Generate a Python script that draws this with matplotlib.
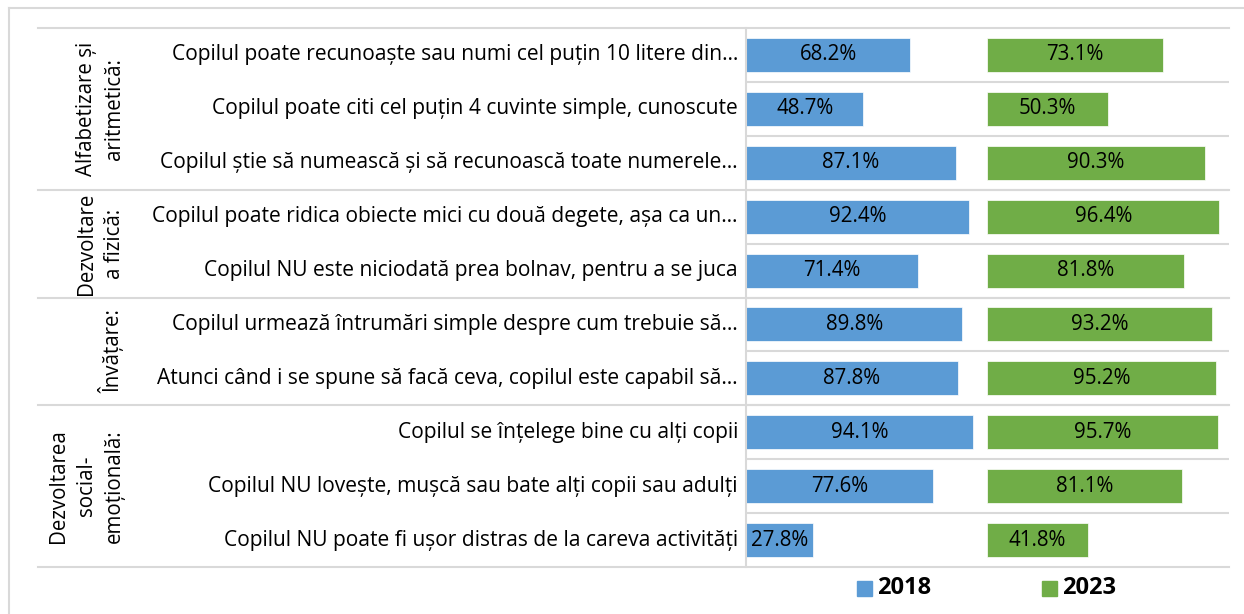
import numpy as np
import matplotlib.pyplot as plt
from matplotlib.lines import Line2D
from matplotlib.patches import Rectangle

# %% data
items = [
    'Copilul poate recunoaște sau numi cel puțin 10 litere din…',
    'Copilul poate citi cel puțin 4 cuvinte simple, cunoscute',
    'Copilul știe să numească și să recunoască toate numerele…',
    'Copilul poate ridica obiecte mici cu două degete, așa ca un…',
    'Copilul NU este niciodată prea bolnav, pentru a se juca',
    'Copilul urmează întrumări simple despre cum trebuie să…',
    'Atunci când i se spune să facă ceva, copilul este capabil să…',
    'Copilul se înțelege bine cu alți copii',
    'Copilul NU lovește, mușcă sau bate alți copii sau adulți',
    'Copilul NU poate fi ușor distras de la careva activități',
]
groups = ['Alfabetizare și\naritmetică:', 'Dezvoltare\na fizică:', 'Învățare:',
          'Dezvoltarea\nsocial-\nemoțională:']
group_sizes = [3, 2, 2, 3]
v2018 = [68.2, 48.7, 87.1, 92.4, 71.4, 89.8, 87.8, 94.1, 77.6, 27.8]
v2023 = [73.1, 50.3, 90.3, 96.4, 81.8, 93.2, 95.2, 95.7, 81.1, 41.8]
years = ['2018', '2023']

blue = '#5B9BD5'
green = '#70AD47'
grid = '#D9D9D9'
plt.rcParams['font.family'] = ['Open Sans', 'DejaVu Sans']
fs = 15.1

W, H = 1244, 614
fig = plt.figure(figsize=(W/100, H/100), dpi=100)

def fx(px):
    return px / W

def fy(py):
    return 1 - py / H

# outer frame
fig.add_artist(Line2D([fx(9), fx(9)], [fy(8), 0], color=grid, lw=1.5))
fig.add_artist(Line2D([fx(9), 1], [fy(8), fy(8)], color=grid, lw=1.5))

# bars axis
x0, x1, y0, y1 = 746, 1229, 28, 567
ax = fig.add_axes([fx(x0), fy(y1), fx(x1 - x0), (y1 - y0) / H])
n = len(items)
pos = np.arange(n) + 0.5
ax.barh(pos, v2018, height=0.63, color=blue, edgecolor='white', lw=0.5)
ax.barh(pos, v2023, left=100, height=0.63, color=green, edgecolor='white', lw=0.5)
for p, a, b in zip(pos, v2018, v2023):
    ax.text(a / 2, p, f'{a:.1f}%', ha='center', va='center', fontsize=14.8)
    ax.text(100 + b / 2, p, f'{b:.1f}%', ha='center', va='center', fontsize=14.8)
ax.set_xlim(0, 200.4)
ax.set_ylim(n, 0)
for k in range(1, n):
    ax.axhline(k, color=grid, lw=1.5, zorder=0)
for s in ['top', 'right', 'bottom']:
    ax.spines[s].set_visible(False)
ax.spines['left'].set_color(grid)
ax.spines['left'].set_linewidth(1.5)
ax.set_xticks([])
ax.set_yticks([])

# row labels
row_h = (y1 - y0) / n
for i, t in enumerate(items):
    fig.text(fx(738), fy(y0 + row_h * (i + 0.5)), t, ha='right', va='center', fontsize=fs)

# group separators and labels
start = 0
for g, size in zip(groups, group_sizes):
    top = y0 + row_h * start
    bot = y0 + row_h * (start + size)
    fig.add_artist(Line2D([fx(38), fx(x1)], [fy(top), fy(top)], color=grid, lw=1.5))
    fig.text(fx(125), fy((top + bot) / 2), g, rotation=90, ha='right', va='center',
             fontsize=14.8, multialignment='center', linespacing=1.45)
    start += size
fig.add_artist(Line2D([fx(38), fx(x1)], [fy(y1), fy(y1)], color=grid, lw=1.5))

# legend
for lx, c, yr in [(857, blue, years[0]), (1042, green, years[1])]:
    fig.add_artist(Rectangle((fx(lx), fy(596)), fx(15), 15 / H, color=c))
    fig.text(fx(lx + 20), fy(588), yr, ha='left', va='center', fontsize=17, fontweight='bold')

fig.savefig('out.png', dpi=100)
